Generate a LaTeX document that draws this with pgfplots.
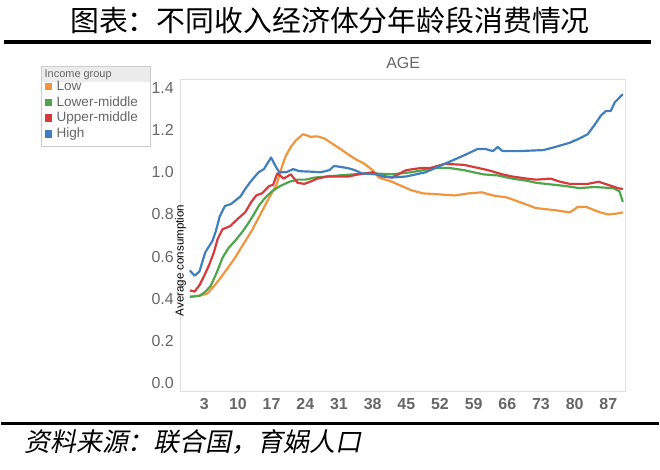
\documentclass[border=0pt]{standalone}
\usepackage{pgfplots}
\pgfplotsset{compat=1.18}
\usepackage{fontspec}
\setmainfont{Liberation Sans}
\newfontfamily\cjk{Noto Sans CJK SC}
\newfontfamily\cjkit[FakeSlant=0.2]{Noto Sans CJK SC}
\definecolor{cblue}{HTML}{3F7FBF}
\definecolor{corange}{HTML}{F0953C}
\definecolor{cgreen}{HTML}{4EA64A}
\definecolor{cred}{HTML}{D63A3A}
\definecolor{tgray}{HTML}{666666}
\begin{document}
\begin{tikzpicture}[x=1pt,y=1pt]
\path (0,0) rectangle (330,234.5);
\node[font=\cjk\fontsize{14.5}{15}\selectfont] at (165,225.5) {图表：不同收入经济体分年龄段消费情况};
\draw[line width=1.6pt] (1.5,214.5) -- (326,214.5);
\draw[line width=1.5pt] (0,23) -- (330,23);
\node[font=\cjkit\fontsize{13}{14}\selectfont,anchor=west] at (8,13.5) {资料来源：联合国，育娲人口};
% legend
\draw[gray!40,fill=white] (20,162) rectangle (75,202);
\fill[gray!15] (20.3,194.5) rectangle (74.7,201.7);
\node[anchor=west,font=\fontsize{5.5}{6}\selectfont,text=tgray,inner sep=0] at (21.5,198) {Income group};
\foreach \c/\t [count=\i] in {corange/Low,cgreen/Lower-middle,cred/Upper-middle,cblue/High}{
  \fill[\c] (22,{190.5-8*(\i-1)}) rectangle ++(3.6,3.6);
  \node[anchor=west,font=\fontsize{6.8}{8}\selectfont,text=tgray,inner sep=0] at (27.5,{192.3-8*(\i-1)}) {\t};
}
\begin{axis}[at={(90pt,39pt)},anchor=south west,scale only axis,width=223.5pt,height=156.5pt,
  xmin=-1.9,xmax=90.6,ymin=-0.038,ymax=1.438,
  axis line style={gray!25},
  xtick={3,10,...,87},ytick={0,0.2,...,1.4},
  major tick length=0pt,
  yticklabel style={/pgf/number format/fixed,/pgf/number format/fixed zerofill,/pgf/number format/precision=1,font=\fontsize{8}{9}\selectfont,text=tgray},
  xticklabel style={font=\bfseries\fontsize{8}{9}\selectfont,text=tgray},
  /pgf/number format/assume math mode=true,
  ylabel={Average consumption},ylabel style={font=\fontsize{5.8}{6}\selectfont,at={(axis description cs:0,0.5)},anchor=center,xshift=-12.5pt},
  title={AGE},title style={font=\fontsize{8}{9}\selectfont,text=tgray,yshift=-4pt},
  every axis plot/.append style={line width=1.1pt,line join=round}]
\addplot[corange] coordinates {(0,0.41)(2,0.415)(3.6,0.425)(5,0.46)(6.4,0.5)(8,0.55)(9.4,0.595)(11,0.655)(12.8,0.72)(14.3,0.785)(15.8,0.85)(17,0.9)(18,0.94)(19.2,1.03)(20,1.08)(21,1.12)(22,1.15)(23.5,1.18)(24.3,1.175)(25,1.168)(26.5,1.17)(28,1.16)(29.3,1.14)(31,1.115)(32.9,1.085)(34.6,1.06)(36.3,1.04)(38,1.01)(39.3,0.975)(42,0.955)(44,0.935)(46,0.915)(48.5,0.9)(52,0.895)(55,0.89)(58,0.9)(60.7,0.905)(63,0.89)(66,0.88)(69,0.855)(72,0.83)(74,0.825)(76,0.82)(79,0.81)(80.6,0.835)(82.5,0.835)(85,0.812)(87,0.8)(89,0.805)(90,0.81)};
\addplot[cgreen] coordinates {(0,0.41)(2,0.415)(3,0.43)(4.3,0.46)(5.5,0.52)(6.8,0.595)(8,0.64)(9.4,0.675)(11,0.72)(12.2,0.76)(13.3,0.8)(14.3,0.84)(15.7,0.88)(17.1,0.91)(18.8,0.935)(20.7,0.955)(22.5,0.965)(24,0.965)(26,0.975)(28.6,0.98)(31,0.985)(34,0.99)(38,0.995)(42,0.99)(46,1.0)(51,1.02)(54,1.02)(57,1.01)(61,0.99)(64,0.985)(67,0.97)(70,0.96)(72,0.95)(76,0.94)(78,0.935)(81,0.925)(84,0.93)(88,0.925)(89.3,0.91)(90,0.86)};
\addplot[cred] coordinates {(0,0.44)(1,0.435)(2,0.465)(3,0.51)(4,0.56)(5,0.62)(5.8,0.685)(6.8,0.73)(8.4,0.745)(10,0.78)(11.5,0.81)(12.8,0.86)(13.8,0.89)(15,0.9)(16.5,0.935)(17.3,0.94)(18.2,0.995)(19.5,0.97)(21,0.99)(22.4,0.95)(23.8,0.945)(25,0.955)(26.5,0.97)(28.6,0.98)(31,0.98)(33,0.98)(35,0.99)(38,1.0)(40,0.98)(42,0.975)(45,1.01)(48,1.02)(50,1.02)(53,1.04)(57,1.035)(60,1.02)(62,1.01)(65,0.99)(67,0.98)(70,0.97)(72,0.965)(75,0.97)(77,0.955)(79,0.945)(82.7,0.945)(85,0.955)(87,0.94)(89,0.925)(90,0.92)};
\addplot[cblue] coordinates {(0,0.535)(1,0.51)(2,0.53)(3.2,0.62)(4.7,0.675)(5.4,0.72)(6.2,0.79)(7.3,0.84)(8.6,0.85)(10.5,0.885)(11.5,0.92)(12.6,0.955)(14.3,1.0)(15.4,1.015)(16.9,1.07)(17.8,1.03)(18.6,1.0)(20,1.0)(21.5,1.015)(22.8,1.005)(25,1.003)(27.2,1.0)(29,1.01)(30,1.03)(32.8,1.02)(34.3,1.01)(35.7,0.995)(38.6,0.99)(42,0.975)(45,0.98)(49,1.0)(52,1.03)(55,1.06)(57,1.08)(59.8,1.11)(61.5,1.11)(63,1.1)(64,1.12)(65,1.1)(68,1.1)(73.5,1.105)(76,1.12)(79,1.14)(81,1.16)(82.7,1.18)(84,1.22)(85.5,1.27)(86.5,1.29)(87.5,1.29)(88.3,1.33)(90,1.37)};
\end{axis}
\end{tikzpicture}
\end{document}
